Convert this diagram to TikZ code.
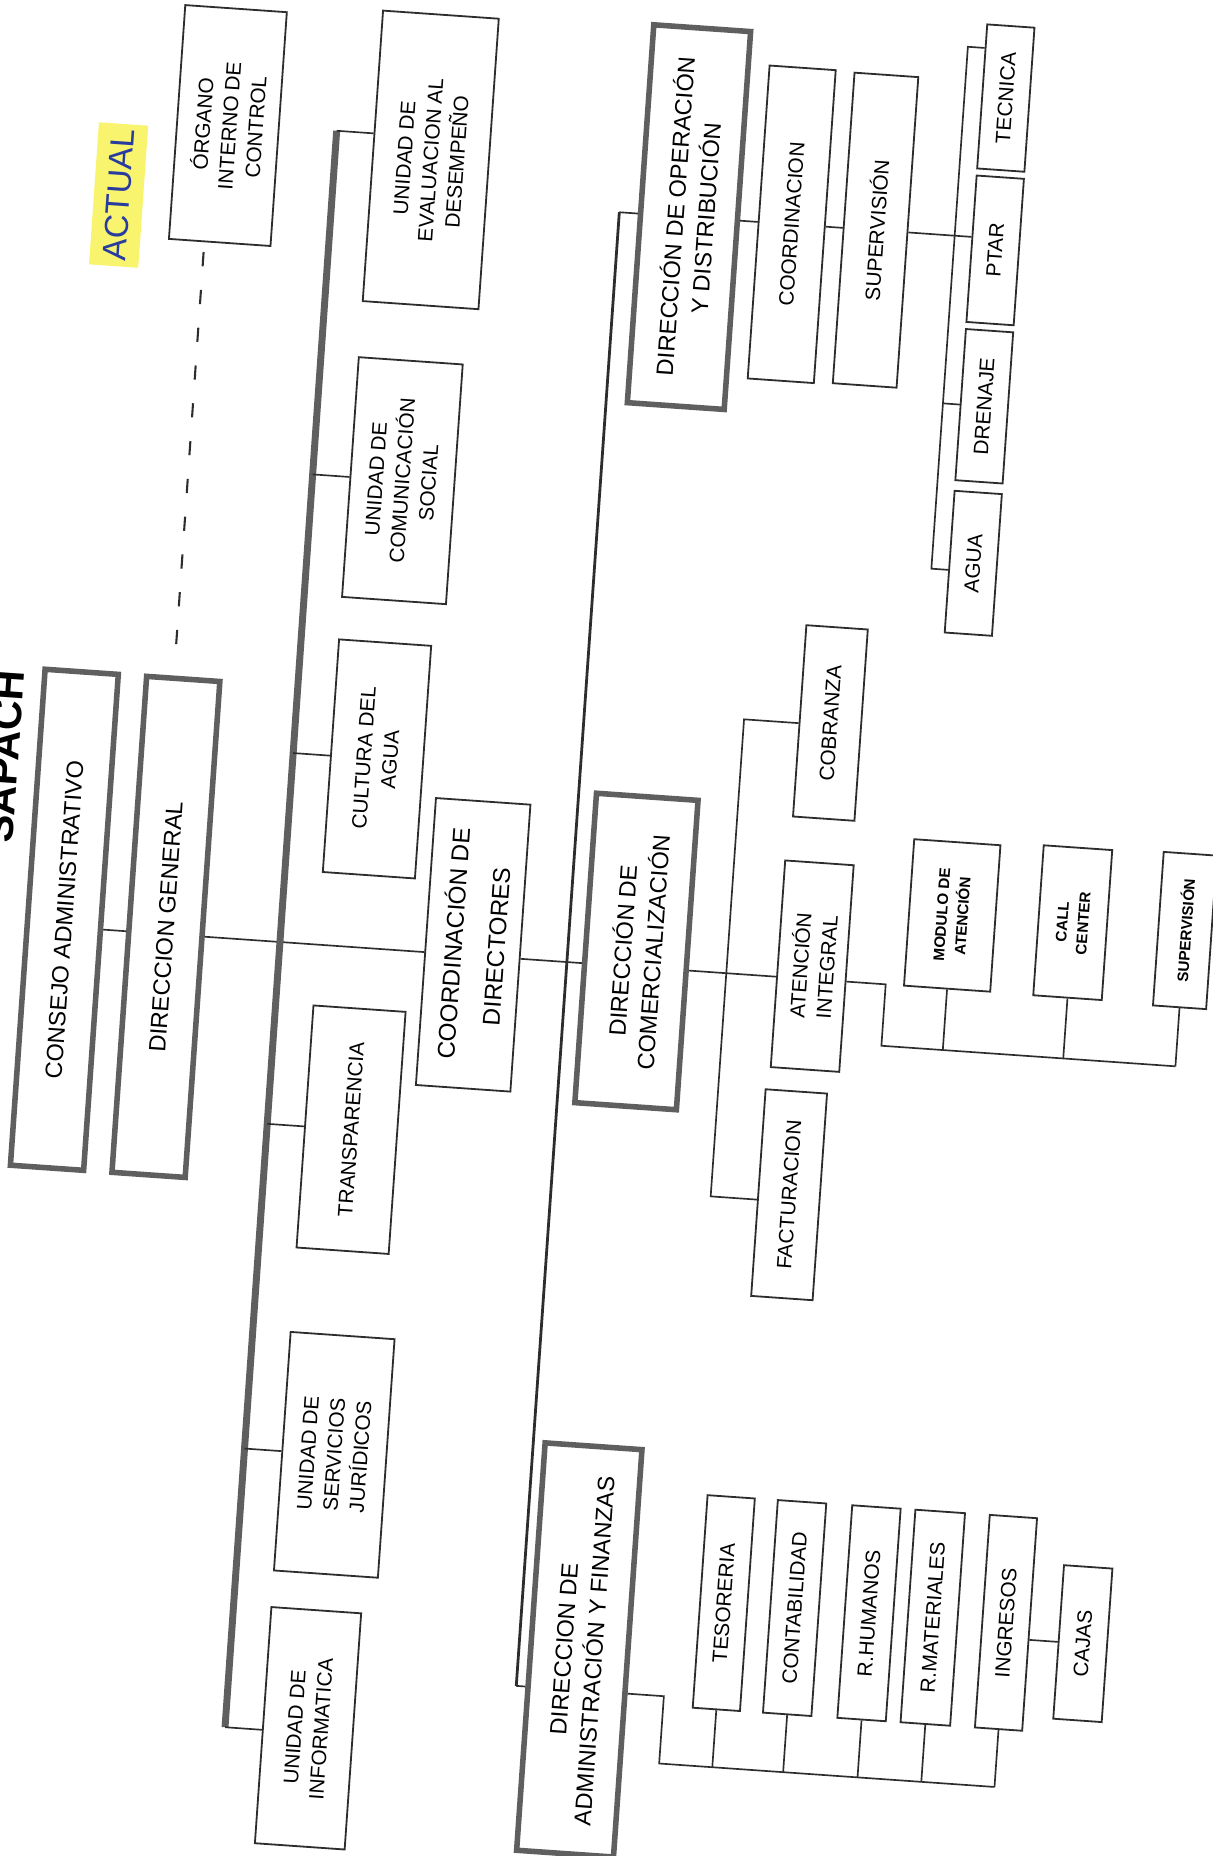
\documentclass[tikz,border=0pt]{standalone}
\usepackage{fontspec}
\setmainfont{Liberation Sans}
\usetikzlibrary{calc}
\definecolor{boxgray}{RGB}{95,95,95}
\definecolor{linegray}{RGB}{45,45,45}
\definecolor{marker}{RGB}{248,244,110}
\definecolor{penblue}{RGB}{40,60,160}

\begin{document}
\begin{tikzpicture}[
    x=0.03cm, y=-0.03cm,
    dims/.style 2 args={minimum width=#1*0.03cm, minimum height=#2*0.03cm},
    ubox/.style={draw=linegray, line width=1.3pt, rotate=90, align=center, inner sep=0pt, font=\fontsize{15}{19}\selectfont},
    dirbox/.style={draw=boxgray, line width=4pt, rotate=90, align=center, inner sep=0pt, font=\fontsize{17}{22}\selectfont},
    tinybox/.style={ubox, font=\bfseries\fontsize{11}{15}\selectfont},
    link/.style={draw=linegray, line width=1.2pt},
    trunk/.style={draw=boxgray, line width=5pt},
    dirtrunk/.style={draw=linegray, line width=2pt},
    dashlink/.style={draw=linegray, line width=1.5pt, dash pattern=on 0.36cm off 0.6cm}
]
\path[use as bounding box, fill=white] (0,0) rectangle (1024,1568);

\begin{scope}[transform canvas={rotate around={-4:(512,784)}}]

% Title and mark
\node[rotate=90, anchor=base, font=\bfseries\fontsize{30}{30}\selectfont] (title) at (7,675) {SAPACH};
\node[rotate=90, fill=marker, text=penblue, inner sep=4pt, minimum height=1.25cm, font=\fontsize{24}{24}\selectfont] (actual) at (58,195) {ACTUAL};

% Board and general direction
\node[dirbox, dims={420}{62}] (consejo) at (55,809) {CONSEJO ADMINISTRATIVO};
\node[dirbox, dims={420}{62}] (dirgen) at (141,809) {DIRECCION GENERAL};
\node[ubox, dims={198}{86}] (organo) at (146,130) {ÓRGANO\\INTERNO DE\\CONTROL};

% Staff units
\node[ubox, dims={246}{98}] (evaluacion) at (319,147) {UNIDAD DE\\EVALUACION AL\\DESEMPEÑO};
\node[ubox, dims={203}{88}] (comunicacion) at (314,419) {UNIDAD DE\\COMUNICACIÓN\\SOCIAL};
\node[ubox, dims={197}{78}] (cultura) at (309,655) {CULTURA DEL\\AGUA};
\node[ubox, dims={205}{78}] (transparencia) at (309,969) {TRANSPARENCIA};
\node[ubox, dims={202}{88}] (juridicos) at (314,1244) {UNIDAD DE\\SERVICIOS\\JURÍDICOS};
\node[ubox, dims={200}{76}] (informatica) at (308,1476) {UNIDAD DE\\INFORMATICA};

\node[ubox, dims={243}{80}, font=\fontsize{17.5}{31}\selectfont] (coordir) at (401,806) {COORDINACIÓN DE\\DIRECTORES};

% Directions
\node[dirbox, dims={320}{82}] (dirop) at (540,180) {DIRECCIÓN DE OPERACIÓN\\Y DISTRIBUCIÓN};
\node[dirbox, dims={262}{86}] (dircom) at (539,802) {DIRECCIÓN DE\\COMERCIALIZACIÓN};
\node[dirbox, dims={345}{82}] (diradm) at (532,1394) {DIRECCION DE\\ADMINISTRACIÓN Y FINANZAS};

% Operation
\node[ubox, dims={265}{56}] (coordop) at (627,180) {COORDINACION};
\node[ubox, dims={263}{54}] (supop) at (698,180) {SUPERVISIÓN};
\node[ubox, dims={122}{40}] (tecnica) at (800,61) {TECNICA};
\node[ubox, dims={124}{40}] (ptar) at (800,190) {PTAR};
\node[ubox, dims={128}{40}] (drenaje) at (800,322) {DRENAJE};
\node[ubox, dims={120}{40}] (agua) at (800,455) {AGUA};

% Commercialization
\node[ubox, dims={162}{52}] (cobranza) at (689,598) {COBRANZA};
\node[ubox, dims={175}{58}] (atencion) at (688,804) {ATENCIÓN\\INTEGRAL};
\node[ubox, dims={175}{52}] (facturacion) at (682,998) {FACTURACION};
\node[tinybox, dims={124}{73}] (modulo) at (803,753) {MODULO DE\\ATENCIÓN};
\node[tinybox, dims={127}{58}] (callcenter) at (905,752) {CALL\\CENTER};
\node[tinybox, dims={130}{45}] (supcom) at (1000,752) {SUPERVISIÓN};

% Administration
\node[ubox, dims={180}{40}] (tesoreria) at (651,1346) {TESORERIA};
\node[ubox, dims={180}{41}] (contabilidad) at (711,1346) {CONTABILIDAD};
\node[ubox, dims={180}{41}] (rhumanos) at (774,1346) {R.HUMANOS};
\node[ubox, dims={180}{42}] (rmateriales) at (828,1346) {R.MATERIALES};
\node[ubox, dims={180}{40}] (ingresos) at (890,1346) {INGRESOS};
\node[ubox, dims={130}{41}] (cajas) at (956,1359) {CAJAS};

% Connector points
\coordinate (mainline) at (0,815);
\coordinate (ttop) at (238,128);
\coordinate (tbot) at (238,1480);
\coordinate (dtop) at (481,180);
\coordinate (dbot) at (481,1428);
\coordinate (dashx) at (133,0);
\coordinate (obtop) at (765,20);
\coordinate (obbot) at (765,462);
\coordinate (cbtop) at (616,600);
\coordinate (cbbot) at (616,1004);
\coordinate (acorner) at (751,815);
\coordinate (abus) at (751,867);
\coordinate (fcorner) at (606,1428);
\coordinate (fbus) at (606,1485);

% Top level links
\draw[link] (consejo.south |- mainline) -- (dirgen.north |- mainline);
\draw[link] (dirgen.south |- mainline) -- (coordir.north |- mainline);
\draw[link] (coordir.south |- mainline) -- (dircom.north |- mainline);
\draw[dashlink, shorten <=0.25cm, shorten >=0.25cm] (organo.west -| dashx) -- (dirgen.east -| dashx);

% Thick trunk
\draw[trunk] (ttop) -- (tbot);
\draw[link] (ttop) -- (ttop -| evaluacion.north);
\foreach \unitname in {comunicacion, cultura, transparencia, juridicos}
  \draw[link] (\unitname.north -| ttop) -- (\unitname.north);
\draw[link] (tbot) -- (tbot -| informatica.north);

% Directors trunk
\draw[dirtrunk] (dtop) -- (dbot);
\draw[link] (dtop) -- (dtop -| dirop.north);
\draw[link] (dbot) -- (dbot -| diradm.north);

% Operation links
\draw[link] (dirop.south) -- (coordop.north);
\draw[link] (coordop.south) -- (supop.north);
\draw[link] (supop.south) -- (supop.south -| ptar.north);
\draw[link] (tecnica.north |- obtop) -- (obtop) -- (obbot) -- (obbot -| agua.north);
\draw[link] (drenaje.north -| obtop) -- (drenaje.north);

% Commercialization links
\draw[link] (dircom.south |- mainline) -- (atencion.north |- mainline);
\draw[link] (cbtop -| cobranza.north) -- (cbtop) -- (cbbot) -- (cbbot -| facturacion.north);
\draw[link] (atencion.south |- mainline) -- (acorner) -- (abus) -- (abus -| supcom.west);
\foreach \unitname in {modulo, callcenter, supcom}
  \draw[link] (\unitname.west) -- (\unitname.west |- abus);

% Administration links
\draw[link] (dbot -| diradm.south) -- (fcorner) -- (fbus) -- (fbus -| ingresos.west);
\foreach \unitname in {tesoreria, contabilidad, rhumanos, rmateriales, ingresos}
  \draw[link] (\unitname.west) -- (\unitname.west |- fbus);
\draw[link] (ingresos.south |- cajas.north) -- (cajas.north);

\end{scope}
\end{tikzpicture}
\end{document}
